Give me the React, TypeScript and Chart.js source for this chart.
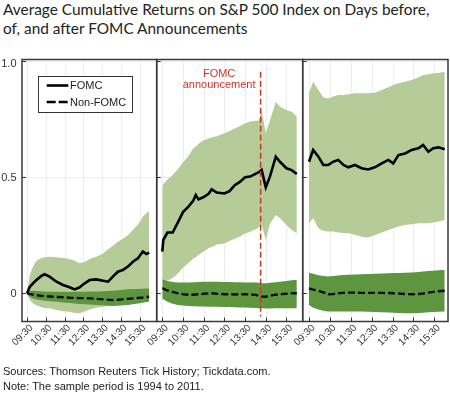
import React, { useEffect, useRef } from "react";
import { Chart, registerables } from "chart.js";
Chart.register(...registerables);

// ---------- DATA ----------
const X_TICKS = [0, 60, 120, 180, 240, 300, 360]; // minutes after 09:30
const X_TICK_LABELS = ["09:30", "10:30", "11:30", "12:30", "13:30", "14:30", "15:30"];
const Y_TICKS = [0, 0.5, 1.0];
const Y_TICK_LABELS = ["0", "0.5", "1.0"];
const ANNOUNCEMENT_MINUTE = 285; // 14:15
const ANNOUNCEMENT_RANGE = [-0.1, 0.955];

// Day before FOMC
const day1Minutes = [0, 9, 19, 30, 46, 56, 72, 94, 115, 136, 152, 168, 184, 200, 221, 243, 259, 274, 290, 306, 322, 338, 354, 370, 381, 390];
const day1Fomc = [0, 0.028, 0.043, 0.057, 0.075, 0.082, 0.072, 0.05, 0.036, 0.026, 0.017, 0.026, 0.043, 0.057, 0.06, 0.054, 0.05, 0.072, 0.093, 0.1, 0.115, 0.136, 0.151, 0.18, 0.169, 0.175];
const day1FomcHi = [0, 0.08, 0.115, 0.14, 0.152, 0.155, 0.158, 0.155, 0.152, 0.148, 0.14, 0.129, 0.135, 0.148, 0.158, 0.172, 0.19, 0.205, 0.222, 0.235, 0.25, 0.273, 0.295, 0.33, 0.345, 0.355];
const day1FomcLo = [0, -0.03, -0.043, -0.052, -0.06, -0.063, -0.065, -0.072, -0.077, -0.08, -0.085, -0.086, -0.078, -0.07, -0.062, -0.058, -0.055, -0.052, -0.05, -0.045, -0.04, -0.032, -0.028, -0.025, -0.022, -0.022];
const day1Non = [0, -0.003, -0.006, -0.008, -0.011, -0.013, -0.014, -0.016, -0.017, -0.019, -0.02, -0.021, -0.021, -0.022, -0.024, -0.026, -0.028, -0.029, -0.028, -0.026, -0.024, -0.022, -0.02, -0.018, -0.016, -0.015];
const day1NonHi = [0, 0.01, 0.011, 0.01, 0.009, 0.008, 0.007, 0.007, 0.007, 0.006, 0.007, 0.007, 0.007, 0.008, 0.008, 0.009, 0.01, 0.011, 0.013, 0.015, 0.017, 0.018, 0.019, 0.02, 0.021, 0.021];
const day1NonLo = [0, -0.015, -0.022, -0.027, -0.03, -0.032, -0.034, -0.037, -0.04, -0.042, -0.044, -0.046, -0.047, -0.048, -0.05, -0.052, -0.054, -0.055, -0.054, -0.052, -0.05, -0.047, -0.044, -0.041, -0.038, -0.036];

// Day of FOMC
const day2Minutes = [0, 3, 15, 30, 45, 60, 75, 90, 97, 105, 120, 135, 143, 158, 180, 195, 210, 225, 240, 255, 270, 280, 288, 300, 312, 329, 341, 360, 375, 390];
const day2Fomc = [0.18, 0.23, 0.262, 0.262, 0.305, 0.35, 0.372, 0.4, 0.424, 0.405, 0.415, 0.43, 0.448, 0.434, 0.43, 0.44, 0.466, 0.48, 0.5, 0.503, 0.515, 0.522, 0.532, 0.457, 0.503, 0.589, 0.567, 0.539, 0.531, 0.514];
const day2FomcHi = [0.46, 0.47, 0.49, 0.51, 0.535, 0.565, 0.59, 0.625, 0.632, 0.645, 0.66, 0.667, 0.672, 0.677, 0.69, 0.7, 0.71, 0.72, 0.733, 0.74, 0.744, 0.745, 0.79, 0.69, 0.745, 0.826, 0.804, 0.79, 0.783, 0.761];
const day2FomcLo = [0.05, 0.05, 0.055, 0.065, 0.085, 0.11, 0.13, 0.15, 0.155, 0.165, 0.18, 0.195, 0.2, 0.21, 0.215, 0.225, 0.235, 0.245, 0.258, 0.265, 0.275, 0.285, 0.295, 0.23, 0.3, 0.337, 0.323, 0.294, 0.273, 0.259];
const day2Non = [0.021, 0.02, 0.012, 0.006, 0, -0.004, -0.006, -0.006, -0.005, -0.004, -0.002, 0, 0, -0.002, -0.004, -0.004, -0.005, -0.004, -0.004, -0.005, -0.007, -0.01, -0.014, -0.015, -0.01, -0.006, -0.004, -0.002, 0, 0];
const day2NonHi = [0.06, 0.058, 0.053, 0.049, 0.047, 0.046, 0.047, 0.048, 0.048, 0.049, 0.05, 0.05, 0.05, 0.05, 0.049, 0.049, 0.048, 0.048, 0.047, 0.047, 0.046, 0.045, 0.043, 0.043, 0.045, 0.048, 0.05, 0.053, 0.056, 0.058];
const day2NonLo = [-0.022, -0.026, -0.036, -0.045, -0.05, -0.053, -0.055, -0.056, -0.056, -0.057, -0.057, -0.058, -0.058, -0.058, -0.059, -0.059, -0.06, -0.061, -0.061, -0.062, -0.063, -0.064, -0.065, -0.066, -0.066, -0.065, -0.065, -0.065, -0.065, -0.065];

// Day after FOMC
const day3Minutes = [0, 12, 27, 41, 55, 70, 84, 99, 113, 132, 151, 170, 189, 209, 228, 242, 257, 276, 295, 314, 328, 343, 357, 372, 390];
const day3Fomc = [0.567, 0.618, 0.589, 0.553, 0.553, 0.567, 0.575, 0.553, 0.543, 0.553, 0.539, 0.534, 0.543, 0.56, 0.575, 0.56, 0.596, 0.603, 0.618, 0.625, 0.639, 0.61, 0.625, 0.629, 0.621];
const day3FomcHi = [0.862, 0.912, 0.876, 0.845, 0.84, 0.848, 0.855, 0.855, 0.858, 0.862, 0.862, 0.862, 0.865, 0.876, 0.888, 0.898, 0.905, 0.912, 0.919, 0.93, 0.941, 0.944, 0.948, 0.95, 0.955];
const day3FomcLo = [0.302, 0.323, 0.28, 0.27, 0.266, 0.266, 0.262, 0.26, 0.259, 0.252, 0.244, 0.24, 0.25, 0.262, 0.273, 0.28, 0.288, 0.294, 0.298, 0.302, 0.302, 0.302, 0.305, 0.31, 0.316];
const day3Non = [0.021, 0.016, 0.011, 0.004, -0.004, -0.003, 0, 0.002, 0.003, 0.003, 0.002, 0.002, 0.002, 0.002, 0.001, 0, -0.001, -0.003, -0.004, -0.003, -0.001, 0.003, 0.006, 0.009, 0.011];
const day3NonHi = [0.089, 0.084, 0.078, 0.074, 0.072, 0.074, 0.077, 0.079, 0.08, 0.081, 0.082, 0.083, 0.084, 0.085, 0.086, 0.087, 0.088, 0.089, 0.09, 0.092, 0.094, 0.096, 0.097, 0.099, 0.1];
const day3NonLo = [-0.05, -0.062, -0.07, -0.075, -0.079, -0.079, -0.079, -0.079, -0.079, -0.079, -0.079, -0.08, -0.081, -0.082, -0.083, -0.084, -0.085, -0.086, -0.086, -0.085, -0.084, -0.082, -0.081, -0.08, -0.079];

// ---------- LAYOUT / STYLE ----------
const W = 450;
const H = 394;
const PLOT_TOP = 59.5;
const PLOT_BOTTOM = 321.5;
const Y_MIN = -0.1216;
const Y_MAX = 1.0078;
const LIGHT = "#b5cc98";
const DARK = "#5e9640";
const FRAME = "#3a3a3a";
const RED = "#c0392b";
const TICK_FONT = "'Liberation Sans', Arial, sans-serif";

type Panel = {
  left: number; right: number; min: number; max: number;
  minutes: number[]; fomc: number[]; fomcHi: number[]; fomcLo: number[];
  non: number[]; nonHi: number[]; nonLo: number[];
  legend?: boolean; announcement?: boolean;
};

const PANELS: Panel[] = [
  { left: 22, right: 156.7, min: -16, max: 414, minutes: day1Minutes, fomc: day1Fomc, fomcHi: day1FomcHi, fomcLo: day1FomcLo, non: day1Non, nonHi: day1NonHi, nonLo: day1NonLo, legend: true },
  { left: 156.7, right: 302.7, min: -16.2, max: 407, minutes: day2Minutes, fomc: day2Fomc, fomcHi: day2FomcHi, fomcLo: day2FomcLo, non: day2Non, nonHi: day2NonHi, nonLo: day2NonLo, announcement: true },
  { left: 302.7, right: 448, min: -18.1, max: 399.4, minutes: day3Minutes, fomc: day3Fomc, fomcHi: day3FomcHi, fomcLo: day3FomcLo, non: day3Non, nonHi: day3NonHi, nonLo: day3NonLo },
];

function decor(p: Panel, idx: number) {
  return {
    id: "decor" + idx,
    beforeDatasetsDraw(chart: any) {
      const { ctx, chartArea: a, scales } = chart;
      const x = scales.x, y = scales.y;
      ctx.save();
      ctx.strokeStyle = "#ededed";
      ctx.lineWidth = 1;
      X_TICKS.forEach((t) => {
        const px = Math.round(x.getPixelForValue(t)) + 0.5;
        ctx.beginPath(); ctx.moveTo(px, a.top); ctx.lineTo(px, a.bottom); ctx.stroke();
      });
      Y_TICKS.forEach((v) => {
        const py = Math.round(y.getPixelForValue(v)) + 0.5;
        ctx.beginPath(); ctx.moveTo(a.left, py); ctx.lineTo(a.right, py); ctx.stroke();
      });
      ctx.restore();
    },
    afterDatasetsDraw(chart: any) {
      const { ctx, chartArea: a, scales } = chart;
      const x = scales.x, y = scales.y;
      ctx.save();
      if (p.announcement) {
        const px = x.getPixelForValue(ANNOUNCEMENT_MINUTE);
        ctx.strokeStyle = RED;
        ctx.lineWidth = 1.5;
        ctx.setLineDash([6, 3]);
        ctx.beginPath();
        ctx.moveTo(px, y.getPixelForValue(ANNOUNCEMENT_RANGE[1]));
        ctx.lineTo(px, y.getPixelForValue(ANNOUNCEMENT_RANGE[0]));
        ctx.stroke();
        ctx.setLineDash([]);
        ctx.fillStyle = "#d8322b";
        ctx.font = "11px " + TICK_FONT;
        ctx.textAlign = "center";
        ctx.textBaseline = "middle";
        ctx.fillText("FOMC", px - 41.5, a.top + 14);
        ctx.fillText("announcement", px - 41.5, a.top + 25);
      }
      // frame
      ctx.strokeStyle = FRAME;
      ctx.lineWidth = 1.5;
      ctx.strokeRect(a.left, a.top, a.right - a.left, a.bottom - a.top);
      // inward ticks
      ctx.lineWidth = 1;
      ctx.strokeStyle = "#333";
      Y_TICKS.forEach((v) => {
        const py = Math.round(y.getPixelForValue(v)) + 0.5;
        ctx.beginPath(); ctx.moveTo(a.left, py); ctx.lineTo(a.left + 4, py); ctx.stroke();
      });
      X_TICKS.forEach((t) => {
        const px = Math.round(x.getPixelForValue(t)) + 0.5;
        ctx.beginPath(); ctx.moveTo(px, a.bottom); ctx.lineTo(px, a.bottom - 4); ctx.stroke();
      });
      if (p.legend) {
        const bx = a.left + 16.3, by = a.top + 16.5, bw = 94.4, bh = 35.5;
        ctx.fillStyle = "#fff";
        ctx.fillRect(bx, by, bw, bh);
        ctx.strokeStyle = "#333";
        ctx.lineWidth = 1;
        ctx.strokeRect(Math.round(bx) + 0.5, Math.round(by) + 0.5, Math.round(bw), Math.round(bh));
        const r1 = by + 9.5, r2 = by + 26;
        ctx.strokeStyle = "#000";
        ctx.lineWidth = 2.6;
        ctx.beginPath(); ctx.moveTo(bx + 8.4, r1); ctx.lineTo(bx + 30, r1); ctx.stroke();
        ctx.setLineDash([9, 3]);
        ctx.beginPath(); ctx.moveTo(bx + 8.4, r2); ctx.lineTo(bx + 30, r2); ctx.stroke();
        ctx.setLineDash([]);
        ctx.fillStyle = "#222";
        ctx.font = "11px " + TICK_FONT;
        ctx.textAlign = "left";
        ctx.textBaseline = "middle";
        ctx.fillText("FOMC", bx + 31.7, r1 + 0.5);
        ctx.fillText("Non-FOMC", bx + 31.7, r2 + 0.5);
      }
      ctx.restore();
    },
    afterDraw(chart: any) {
      const { ctx, chartArea: a, scales } = chart;
      const x = scales.x, y = scales.y;
      ctx.save();
      ctx.fillStyle = "#333";
      ctx.font = "10px " + TICK_FONT;
      ctx.textAlign = "right";
      ctx.textBaseline = "middle";
      X_TICKS.forEach((t, k) => {
        const px = x.getPixelForValue(t);
        ctx.save();
        ctx.translate(px + 4.5, a.bottom + 4.8);
        ctx.rotate(-Math.PI / 4);
        ctx.fillText(X_TICK_LABELS[k], 0, 0);
        ctx.restore();
      });
      if (idx === 0) {
        ctx.font = "11px " + TICK_FONT;
        ctx.textAlign = "right";
        ctx.textBaseline = "middle";
        Y_TICKS.forEach((v, k) => {
          const py = y.getPixelForValue(v);
          ctx.fillText(Y_TICK_LABELS[k], 16.5, py + (v === 1 ? 2.5 : 0.5));
        });
      }
      ctx.restore();
    },
  };
}

function makeConfig(p: Panel, idx: number): any {
  const pts = (vals: number[]) => p.minutes.map((m, k) => ({ x: m, y: vals[k] }));
  const clear = "rgba(0,0,0,0)";
  return {
    type: "line",
    data: {
      datasets: [
        { label: "FOMC", data: pts(p.fomc), borderColor: "#000", borderWidth: 2.6, pointRadius: 0, fill: false },
        { label: "Non-FOMC", data: pts(p.non), borderColor: "#111", borderWidth: 2.4, borderDash: [7, 3], pointRadius: 0, fill: false },
        { label: "Non-FOMC band high", data: pts(p.nonHi), borderColor: clear, borderWidth: 1, backgroundColor: DARK, pointRadius: 0, fill: "+1" },
        { label: "Non-FOMC band low", data: pts(p.nonLo), borderColor: clear, borderWidth: 1, pointRadius: 0, fill: false },
        { label: "FOMC band high", data: pts(p.fomcHi), borderColor: clear, borderWidth: 1, backgroundColor: LIGHT, pointRadius: 0, fill: "+1" },
        { label: "FOMC band low", data: pts(p.fomcLo), borderColor: clear, borderWidth: 1, pointRadius: 0, fill: false },
      ],
    },
    options: {
      animation: false,
      responsive: false,
      devicePixelRatio: 1,
      events: [],
      layout: { padding: { left: p.left, right: W - p.right, top: PLOT_TOP, bottom: H - PLOT_BOTTOM } },
      scales: {
        x: { type: "linear", min: p.min, max: p.max, display: false },
        y: { type: "linear", min: Y_MIN, max: Y_MAX, display: false },
      },
      plugins: { legend: { display: false }, tooltip: { enabled: false }, title: { display: false } },
    },
    plugins: [decor(p, idx)],
  };
}

export default function App() {
  const r0 = useRef<HTMLCanvasElement>(null);
  const r1 = useRef<HTMLCanvasElement>(null);
  const r2 = useRef<HTMLCanvasElement>(null);
  useEffect(() => {
    const refs = [r0, r1, r2];
    const charts = PANELS.map((p, i) => new Chart(refs[i].current as HTMLCanvasElement, makeConfig(p, i)));
    return () => charts.forEach((c) => c.destroy());
  }, []);
  const canvasStyle: React.CSSProperties = { position: "absolute", left: 0, top: 0, width: W, height: H };
  return (
    <div style={{ position: "absolute", left: 0, top: 0, width: W, height: H, background: "#fff", overflow: "hidden" }}>
      <div style={{ position: "absolute", left: 3, top: 0.2, fontFamily: "Lato, 'Open Sans', sans-serif", fontSize: 15.4, lineHeight: "19px", color: "#222", whiteSpace: "nowrap" }}>
        Average Cumulative Returns on S&amp;P 500 Index on Days before,<br />of, and after FOMC Announcements
      </div>
      <canvas ref={r0} width={W} height={H} style={canvasStyle} />
      <canvas ref={r1} width={W} height={H} style={canvasStyle} />
      <canvas ref={r2} width={W} height={H} style={canvasStyle} />
      <div style={{ position: "absolute", left: 3, top: 363.7, fontFamily: "'Liberation Sans', Arial, sans-serif", fontSize: 11, lineHeight: "15px", color: "#222", whiteSpace: "nowrap" }}>
        Sources: Thomson Reuters Tick History; Tickdata.com.<br />Note: The sample period is 1994 to 2011.
      </div>
    </div>
  );
}
